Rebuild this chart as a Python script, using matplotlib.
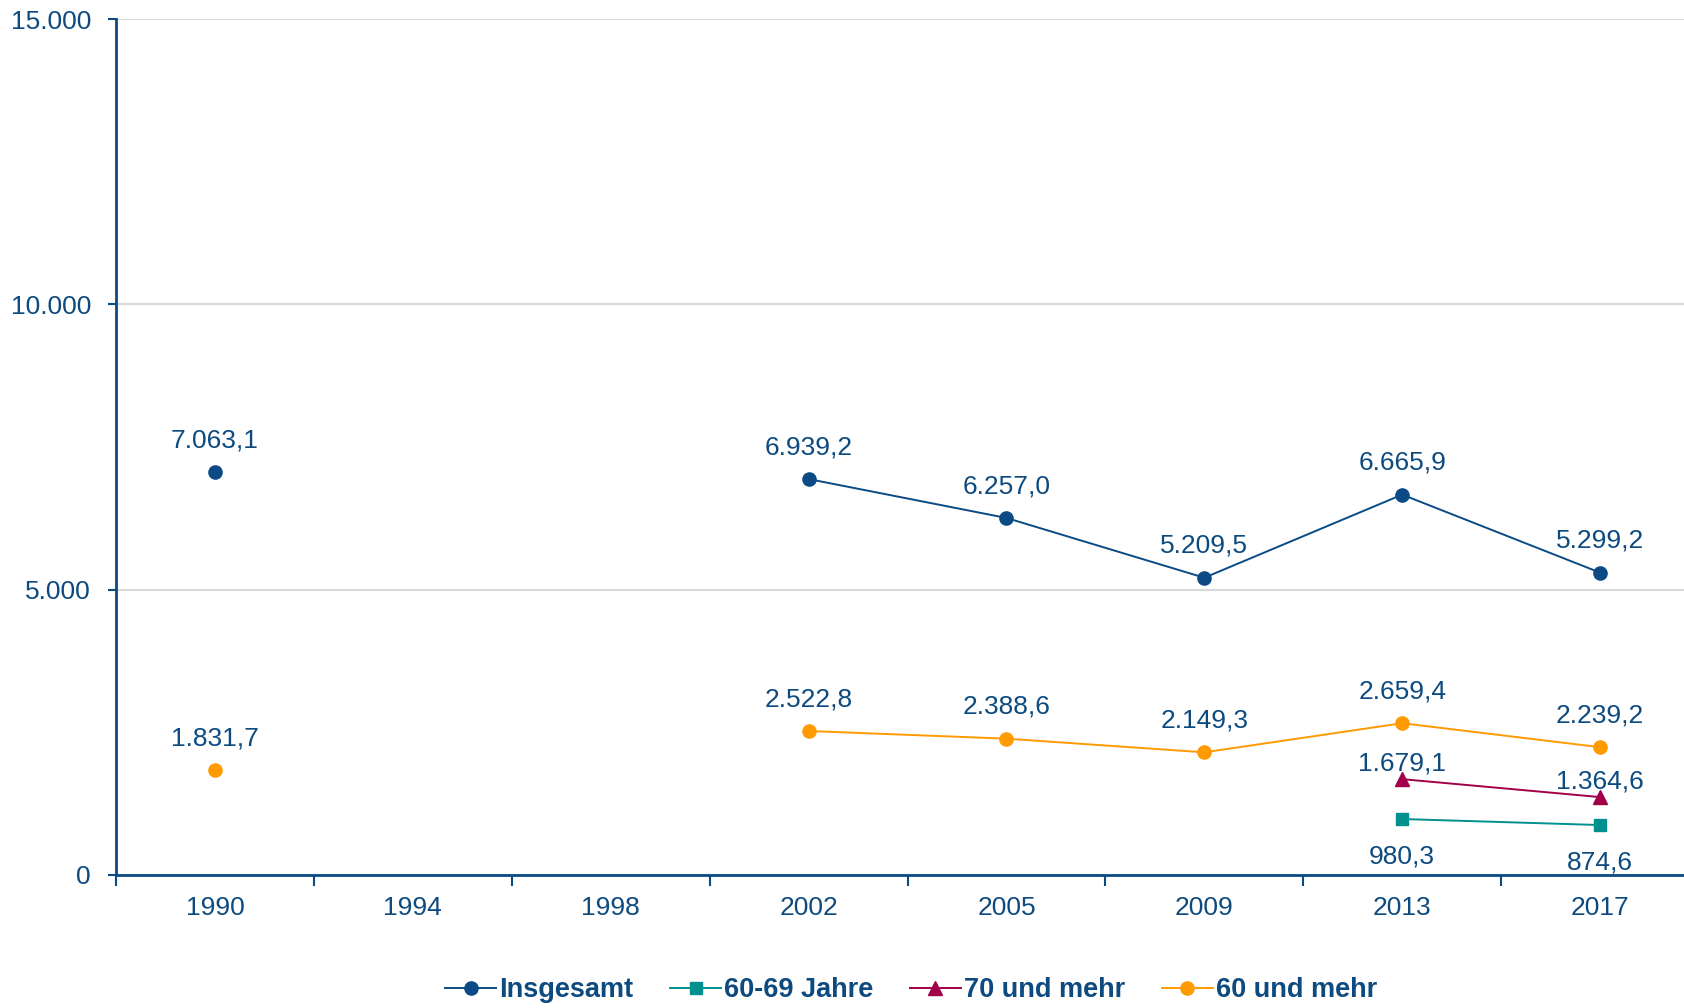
import numpy as np
import matplotlib
matplotlib.use("Agg")
import matplotlib.pyplot as plt
from matplotlib.ticker import FuncFormatter
from matplotlib import font_manager

years = ["1990", "1994", "1998", "2002", "2005", "2009", "2013", "2017"]
insgesamt = [7063.1, np.nan, np.nan, 6939.2, 6257.0, 5209.5, 6665.9, 5299.2]
j60_69 = [np.nan, np.nan, np.nan, np.nan, np.nan, np.nan, 980.3, 874.6]
j70_plus = [np.nan, np.nan, np.nan, np.nan, np.nan, np.nan, 1679.1, 1364.6]
j60_plus = [1831.7, np.nan, np.nan, 2522.8, 2388.6, 2149.3, 2659.4, 2239.2]
y_ticks = [0, 5000, 10000, 15000]

names = [f.name for f in font_manager.fontManager.ttflist]
base_font = "Liberation Sans" if "Liberation Sans" in names else "DejaVu Sans"
legend_font = "Liberation Sans Narrow" if "Liberation Sans Narrow" in names else base_font
plt.rcParams["font.family"] = [base_font, "DejaVu Sans"]

TXT = "#0d4a7f"
BLUE = "#0b4a85"
TEAL = "#00918e"
RED = "#a3004a"
ORANGE = "#ff9a00"

fig = plt.figure(figsize=(16.84, 10.08), dpi=100)
ax = fig.add_axes([0.0689, 0.132, 0.940, 0.849])

x = np.arange(len(years))

def de(v):
    s = f"{v:,.1f}"
    return s.replace(",", "X").replace(".", ",").replace("X", ".")

series = [
    ("Insgesamt", insgesamt, BLUE, "o", 9.5, 23),
    ("60-69 Jahre", j60_69, TEAL, "s", 9, -27),
    ("70 und mehr", j70_plus, RED, "^", 10, 11),
    ("60 und mehr", j60_plus, ORANGE, "o", 9.5, 23),
]
for name, vals, col, mk, ms, off in series:
    ax.plot(x, vals, color=col, lw=1.4, marker=mk, ms=ms, label=name, zorder=3)
    for xi, v in zip(x, vals):
        if not np.isnan(v):
            ax.annotate(de(v), (xi, v), xytext=(0, off), textcoords="offset points",
                        ha="center", va="center", fontsize=19, color=TXT, zorder=4)

ax.set_xlim(-0.5, len(years) - 0.5)
ax.set_ylim(0, 15000)
ax.set_yticks(y_ticks)
ax.yaxis.set_major_formatter(FuncFormatter(lambda v, p: f"{int(v):,}".replace(",", ".")))
ax.set_xticks(np.arange(-0.5, len(years), 1.0))
ax.set_xticklabels([])
ax.set_xticks(x, minor=True)
ax.set_xticklabels(years, minor=True)
ax.tick_params(axis="x", which="major", length=8, width=1.5, color=BLUE, direction="out")
ax.tick_params(axis="x", which="minor", length=0, pad=15, labelsize=19, labelcolor=TXT)
ax.tick_params(axis="y", length=6, width=1.5, color=BLUE, pad=12, labelsize=19, labelcolor=TXT)

ax.grid(axis="y", color="#d9d9d9", lw=1.5, zorder=0)
ax.set_axisbelow(True)
for s in ["top", "right"]:
    ax.spines[s].set_visible(False)
for s in ["left", "bottom"]:
    ax.spines[s].set_color(BLUE)
    ax.spines[s].set_linewidth(2)

leg = fig.legend(loc="center", bbox_to_anchor=(0.541, 0.0175), ncol=4, frameon=False,
                 prop={"family": legend_font, "weight": "bold", "size": 19.5},
                 handlelength=1.9, handletextpad=0.1, columnspacing=1.35)
for t in leg.get_texts():
    t.set_color(TXT)

fig.savefig("out.png", dpi=100)
